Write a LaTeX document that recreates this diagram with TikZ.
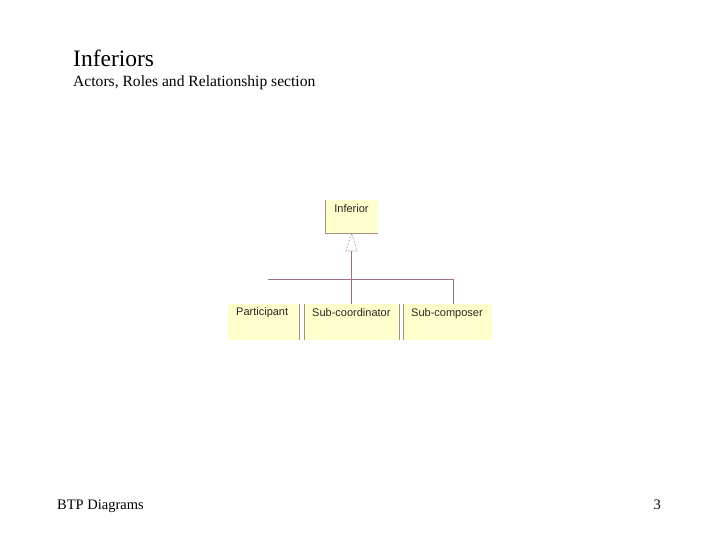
\documentclass[tikz,border=0pt]{standalone}
\usepackage{fontspec}
\setmainfont{Liberation Serif}
\newfontfamily\diagfont{Liberation Sans}
\definecolor{boxfill}{RGB}{255,255,206}
\definecolor{boxedge}{RGB}{170,140,135}
\definecolor{conn}{RGB}{155,110,140}
\definecolor{tri}{RGB}{150,150,150}
\begin{document}
\begin{tikzpicture}[x=1pt,y=-1pt,
  boxshape/.style={fill=boxfill,draw=none},
  edge/.style={draw=boxedge,line width=0.8pt},
  connline/.style={draw=conn,line width=0.8pt},
  lbl/.style={font=\diagfont\fontsize{11}{12}\selectfont,inner sep=0pt,anchor=west,text=black!85},
  ]
\useasboundingbox (0,0) rectangle (720,540);
% titles
\node[anchor=base west,inner sep=0pt,font=\fontsize{23.5}{26}\selectfont] (title) at (73,67) {Inferiors};
\node[anchor=base west,inner sep=0pt,font=\fontsize{15.6}{18}\selectfont] (subtitle) at (73,87) {Actors, Roles and Relationship section};
\node[anchor=base west,inner sep=0pt,font=\fontsize{14.5}{16}\selectfont] (footer) at (57,509) {BTP Diagrams};
\node[anchor=base east,inner sep=0pt,font=\fontsize{14.5}{16}\selectfont] (pagenum) at (661,509) {3};
% boxes
\fill[boxfill] (325,200) rectangle (378,233);
\draw[edge] (325.5,200) -- (325.5,233) -- (378,233);
\node[lbl,anchor=center] (inferior) at (351.5,209) {Inferior};
\coordinate (infbot) at (351.5,233);

\fill[boxfill] (228,304) rectangle (299,340);
\draw[edge] (299,304) -- (299,340);
\node[lbl] (participant) at (236,313) {Participant};

\fill[boxfill] (304,304) rectangle (399,340);
\draw[edge] (304,304) -- (304,340);
\draw[edge] (399,304) -- (399,340);
\node[lbl] (subcoord) at (312,313) {Sub-coordinator};
\coordinate (subcoordtop) at (351.5,304);

\fill[boxfill] (403,304) rectangle (492,340);
\draw[edge] (403,304) -- (403,340);
\node[lbl] (subcomp) at (411,314) {Sub-composer};
\coordinate (subcomptop) at (453,304);

% connectors
\coordinate (trib) at (351.5,251);
\coordinate (hleft) at (268,279);
\coordinate (hright) at (453,279);
\draw[tri,dashed,dash pattern=on 2pt off 1.5pt,line width=0.6pt] (infbot) -- (346,251) -- (357,251) -- cycle;
\draw[connline] (trib) -- (subcoordtop);
\draw[connline] (hleft) -- (hright) -- (subcomptop);
\end{tikzpicture}
\end{document}
